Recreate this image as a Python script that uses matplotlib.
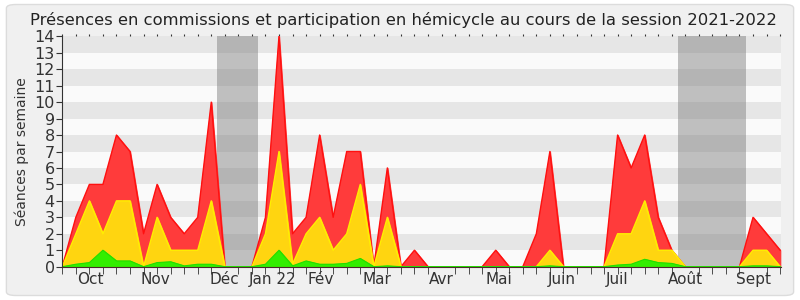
import matplotlib
matplotlib.use("Agg")
import matplotlib.pyplot as plt
from matplotlib.patches import FancyBboxPatch
import numpy as np

# weekly values (cumulative tops), session 2021-2022
total = [0, 3, 5, 5, 8, 7, 2, 5, 3, 2, 3, 10, 0, 0, 0, 3, 14, 2, 3, 8,
         3, 7, 7, 0, 6, 0, 1, 0, 0, 0, 0, 0, 1, 0, 0, 2, 7, 0, 0, 0,
         0, 8, 6, 8, 3, 1, 0, 0, 0, 0, 0, 3, 2, 1]
hemicycle = [0, 2, 4, 2, 4, 4, 0, 3, 1, 1, 1, 4, 0, 0, 0, 2, 7, 0.15, 2, 3,
             1, 2, 5, 0, 3, 0, 0, 0, 0, 0, 0, 0, 0, 0, 0, 0, 1, 0, 0, 0,
             0, 2, 2, 4, 1, 1, 0, 0, 0, 0, 0, 1, 1, 0]
interventions = [0, 0.15, 0.25, 1, 0.35, 0.35, 0, 0.25, 0.3, 0.05, 0.15, 0.15, 0, 0, 0, 0.15, 1, 0.05, 0.35, 0.15,
                 0.15, 0.2, 0.5, 0, 0.05, 0, 0, 0, 0, 0, 0, 0, 0, 0, 0, 0, 0.05, 0, 0, 0,
                 0, 0.1, 0.15, 0.45, 0.25, 0.2, 0, 0, 0, 0, 0, 0.05, 0.05, 0]
months = ["Oct", "Nov", "Déc", "Jan 22", "Fév", "Mar", "Avr", "Mai", "Juin", "Juil", "Août", "Sept"]
month_pos = [2.1, 6.9, 12.0, 15.5, 19.05, 23.2, 28.0, 32.2, 36.9, 40.95, 46.0, 51.0]
vacances = [(11.45, 14.45), (45.45, 50.5)]

weeks = np.arange(len(total))

fig = plt.figure(figsize=(8, 3), dpi=100)
fig.patch.set_facecolor("white")
bg = FancyBboxPatch((0.008, 0.015), 0.984, 0.97, boxstyle="round,pad=0,rounding_size=0.012",
                    transform=fig.transFigure, facecolor="#f0f0f0", edgecolor="#dcdcdc", lw=1,
                    zorder=-10)
fig.add_artist(bg)

ax = fig.add_axes([0.077, 0.111, 0.899, 0.768])
ax.set_zorder(1)
ax.set_facecolor("#fafafa")
for y in range(1, 14, 2):
    ax.axhspan(y, y + 1, color="#e6e6e6", lw=0, zorder=0)
for a, b in vacances:
    ax.axvspan(a, b, color="#777777", alpha=0.45, lw=0, zorder=1)

ax.fill_between(weeks, 0, total, color="#ff3b3b", zorder=2)
ax.plot(weeks, total, color="#ff1010", lw=1, zorder=3)
ax.fill_between(weeks, 0, hemicycle, color="#ffd510", zorder=4)
ax.plot(weeks, hemicycle, color="#ffee00", lw=1, zorder=5)
ax.fill_between(weeks, 0, interventions, color="#33ee00", zorder=6)
ax.plot(weeks, interventions, color="#22dd00", lw=0.8, zorder=7)

ax.set_xlim(-0.05, 53.05)
ax.set_ylim(0, 14)
ax.set_yticks(range(0, 15))
ax.set_xticks(month_pos)
ax.set_xticklabels(months)
ax.set_xticks(weeks, minor=True)
ax.tick_params(axis="x", which="major", length=0, labelsize=11, colors="#333333", pad=4)
ax.tick_params(axis="x", which="minor", length=5, color="#333333")
ax.tick_params(axis="y", length=4, labelsize=11.5, colors="#333333", pad=1)

top = ax.secondary_xaxis("top")
top.set_xticks(weeks)
top.set_xticklabels([])
top.tick_params(length=1.5, color="#333333")
top.spines["top"].set_visible(False)

for s in ["top", "right"]:
    ax.spines[s].set_visible(False)
ax.spines["left"].set_color("#333333")
ax.spines["bottom"].set_color("#4a2a2a")
ax.spines["bottom"].set_zorder(10)
ax.spines["left"].set_zorder(10)

ax.set_ylabel("Séances par semaine", fontsize=10, color="#333333", labelpad=4)
fig.text(0.504, 0.935, "Présences en commissions et participation en hémicycle au cours de la session 2021-2022",
         ha="center", va="center", fontsize=11.8, color="#222222")

fig.savefig("out.png", dpi=100, facecolor=fig.get_facecolor())
